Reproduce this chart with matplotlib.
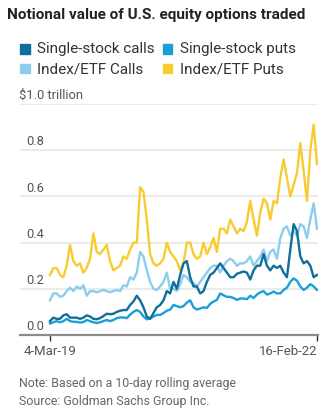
import matplotlib
matplotlib.use("Agg")
import matplotlib.pyplot as plt
import matplotlib.patches as mpatches
import pandas as pd
import numpy as np

# ---------------- data ----------------
start_date = "2019-03-04"
end_date = "2022-02-16"
n_points = 81

index_etf_puts = [0.26, 0.29, 0.29, 0.26, 0.25, 0.30, 0.39, 0.32, 0.30, 0.31,
                  0.27, 0.29, 0.33, 0.44, 0.36, 0.35, 0.37, 0.39, 0.32, 0.28,
                  0.29, 0.30, 0.34, 0.33, 0.37, 0.40, 0.40, 0.64, 0.62, 0.50,
                  0.35, 0.31, 0.30, 0.31, 0.33, 0.40, 0.36, 0.34, 0.32, 0.28,
                  0.31, 0.40, 0.40, 0.35, 0.33, 0.34, 0.40, 0.35, 0.38, 0.42,
                  0.36, 0.46, 0.46, 0.44, 0.50, 0.47, 0.44, 0.46, 0.45, 0.49,
                  0.58, 0.50, 0.43, 0.53, 0.59, 0.57, 0.50, 0.58, 0.57, 0.68,
                  0.76, 0.68, 0.60, 0.65, 0.70, 0.83, 0.71, 0.58, 0.80, 0.91,
                  0.74]

index_etf_calls = [0.15, 0.18, 0.18, 0.165, 0.17, 0.19, 0.205, 0.19, 0.21, 0.20,
                   0.215, 0.17, 0.19, 0.19, 0.185, 0.19, 0.195, 0.19, 0.185, 0.19,
                   0.195, 0.19, 0.215, 0.21, 0.25, 0.24, 0.27, 0.36, 0.34, 0.28,
                   0.23, 0.20, 0.195, 0.21, 0.23, 0.27, 0.20, 0.20, 0.19, 0.22,
                   0.26, 0.25, 0.23, 0.225, 0.21, 0.23, 0.25, 0.27, 0.29, 0.30,
                   0.30, 0.27, 0.30, 0.32, 0.33, 0.32, 0.30, 0.31, 0.31, 0.32,
                   0.34, 0.30, 0.32, 0.34, 0.37, 0.32, 0.36, 0.37, 0.33, 0.42,
                   0.46, 0.47, 0.43, 0.45, 0.43, 0.48, 0.47, 0.42, 0.50, 0.57,
                   0.46]

single_stock_calls = [0.06, 0.075, 0.07, 0.07, 0.085, 0.09, 0.075, 0.075, 0.075, 0.07,
                      0.075, 0.085, 0.08, 0.07, 0.068, 0.073, 0.082, 0.092, 0.09, 0.092,
                      0.10, 0.105, 0.108, 0.108, 0.13, 0.145, 0.17, 0.15, 0.12, 0.08,
                      0.07, 0.095, 0.12, 0.13, 0.15, 0.19, 0.18, 0.23, 0.20, 0.26,
                      0.31, 0.32, 0.25, 0.21, 0.21, 0.18, 0.19, 0.23, 0.26, 0.27,
                      0.29, 0.31, 0.29, 0.27, 0.25, 0.25, 0.265, 0.27, 0.275, 0.27,
                      0.24, 0.28, 0.30, 0.30, 0.35, 0.30, 0.28, 0.30, 0.29, 0.30,
                      0.27, 0.25, 0.37, 0.48, 0.45, 0.34, 0.31, 0.32, 0.30, 0.25,
                      0.26]

single_stock_puts = [0.05, 0.055, 0.06, 0.055, 0.06, 0.07, 0.06, 0.057, 0.057, 0.054,
                     0.056, 0.065, 0.06, 0.055, 0.052, 0.055, 0.06, 0.065, 0.06, 0.065,
                     0.073, 0.076, 0.076, 0.073, 0.088, 0.10, 0.108, 0.10, 0.08, 0.068,
                     0.072, 0.08, 0.087, 0.087, 0.095, 0.105, 0.11, 0.13, 0.125, 0.12,
                     0.125, 0.14, 0.15, 0.12, 0.11, 0.115, 0.12, 0.117, 0.135, 0.145,
                     0.152, 0.18, 0.172, 0.165, 0.165, 0.16, 0.152, 0.158, 0.158, 0.155,
                     0.17, 0.16, 0.175, 0.185, 0.19, 0.175, 0.18, 0.188, 0.18, 0.18,
                     0.195, 0.205, 0.23, 0.245, 0.235, 0.21, 0.195, 0.205, 0.22, 0.21,
                     0.195]

series_names = ["Single-stock calls", "Single-stock puts", "Index/ETF Calls", "Index/ETF Puts"]
y_ticks = [0.0, 0.2, 0.4, 0.6, 0.8, 1.0]
y_tick_labels = ["0.0", "0.2", "0.4", "0.6", "0.8", "$1.0 trillion"]
x_tick_labels = ["4-Mar-19", "16-Feb-22"]

title = "Notional value of U.S. equity options traded"
note = "Note: Based on a 10-day rolling average"
source = "Source: Goldman Sachs Group Inc."

# ---------------- style ----------------
colors = {
    "Single-stock calls": "#0f6f9a",
    "Single-stock puts": "#1b9fd6",
    "Index/ETF Calls": "#8ccdee",
    "Index/ETF Puts": "#f8cc30",
}
FONT = ["Liberation Sans Narrow", "Roboto", "DejaVu Sans"]

W, H = 326, 411
fig = plt.figure(figsize=(W / 100, H / 100), dpi=100)

def fx(px):
    return px / W

def fy(py):
    return 1 - py / H

# axes spans pixel x 20..318 and y 104..335
ax_left, ax_right, ax_top, ax_bottom = 20, 318, 104, 335
ax = fig.add_axes([fx(ax_left), fy(ax_bottom), fx(ax_right - ax_left), (ax_bottom - ax_top) / H])

dates = pd.date_range(start_date, end_date, periods=n_points)
d0, d1 = dates[0], dates[-1]
span_days = (d1 - d0).days
px_per_day = (317 - 50) / span_days
xlim_left = d0 - pd.Timedelta(days=(50 - ax_left) / px_per_day)
xlim_right = d1 + pd.Timedelta(days=(ax_right - 317) / px_per_day)

data = {
    "Index/ETF Puts": index_etf_puts,
    "Index/ETF Calls": index_etf_calls,
    "Single-stock puts": single_stock_puts,
    "Single-stock calls": single_stock_calls,
}
for name in ["Index/ETF Puts", "Index/ETF Calls", "Single-stock puts", "Single-stock calls"]:
    ax.plot(dates, data[name], color=colors[name], lw=1.7, solid_joinstyle="round", zorder=3)

ax.set_xlim(xlim_left, xlim_right)
ax.set_ylim(0, 1.0)

for s in ["top", "right", "left"]:
    ax.spines[s].set_visible(False)
ax.spines["bottom"].set_color("#8c8c8c")
ax.spines["bottom"].set_linewidth(1.6)
ax.spines["bottom"].set_zorder(4)

ax.set_yticks(y_ticks)
ax.set_yticklabels([])
ax.tick_params(axis="y", length=0)
ax.grid(axis="y", color="#e8e8e8", lw=1.2, zorder=0)
ax.set_axisbelow(True)

ytrans = ax.get_yaxis_transform()
for v, lab in zip(y_ticks, y_tick_labels):
    xpos = (26 - ax_left) / (ax_right - ax_left)
    if lab.startswith("$"):
        xpos = (19 - ax_left) / (ax_right - ax_left)
    ax.text(xpos, v + 0.008, lab, transform=ytrans, ha="left", va="bottom",
            fontsize=9.3, color="#555555", family=FONT, zorder=2)

ax.set_xticks([d0, d1])
ax.set_xticklabels(x_tick_labels, family=FONT, fontsize=9.5, color="#555555")
ax.tick_params(axis="x", length=4, width=1.0, color="#333333", pad=3)
xl = ax.get_xticklabels()
xl[0].set_ha("center")
xl[1].set_ha("right")

# title
fig.text(fx(7), fy(15), title, fontsize=11, fontweight="bold", color="#222222",
         family=FONT, ha="left", va="center")

# legend (manual)
leg_items = [
    ("Single-stock calls", 20, 49.5),
    ("Single-stock puts", 163, 49.5),
    ("Index/ETF Calls", 20, 69),
    ("Index/ETF Puts", 163, 69),
]
for name, px, py in leg_items:
    fig.patches.append(mpatches.Rectangle((fx(px), fy(py + 4.5)), fx(9.5), 9.5 / H,
                                          transform=fig.transFigure, color=colors[name]))
    fig.text(fx(px + 17), fy(py), name, fontsize=11.0, color="#333333", family=FONT,
             ha="left", va="center")

fig.text(fx(19), fy(383), note, fontsize=8.9, color="#666666", family=FONT, ha="left", va="center")
fig.text(fx(19), fy(401), source, fontsize=8.9, color="#666666", family=FONT, ha="left", va="center")

fig.savefig("out.png", dpi=100)
